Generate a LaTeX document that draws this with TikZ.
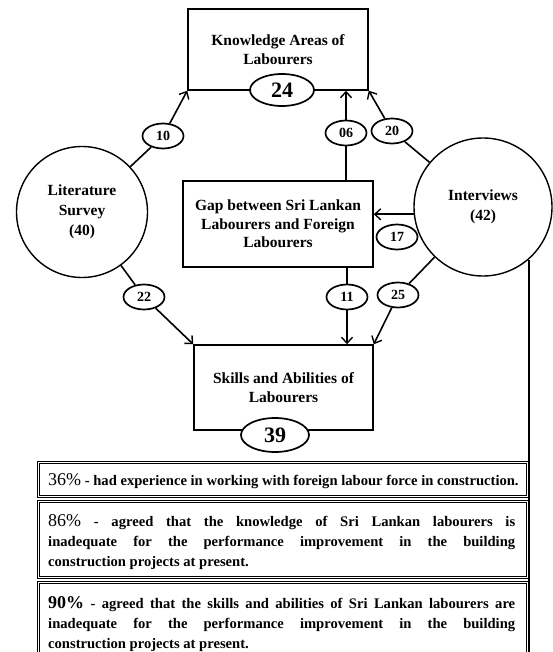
\documentclass[tikz,border=0pt]{standalone}
\usepackage{fontspec}
\setmainfont{Liberation Serif}
\usetikzlibrary{shapes.geometric,arrows.meta}
\begin{document}
\begin{tikzpicture}[x=1pt,y=-1pt,
  box/.style={draw,line width=1.5pt,rectangle,inner sep=0pt,font=\fontsize{15.5}{18.5}\selectfont\bfseries,align=center},
  circ/.style={draw,line width=1.4pt,circle,inner sep=0pt,font=\fontsize{15.5}{20}\selectfont\bfseries,align=center},
  num/.style={draw,line width=1.7pt,ellipse,inner sep=0pt,minimum width=41pt,minimum height=25pt,fill=white,font=\fontsize{14}{14}\selectfont\bfseries},
  bignum/.style={draw,line width=1.7pt,ellipse,inner sep=0pt,minimum width=64pt,minimum height=32pt,fill=white,font=\fontsize{22}{22}\selectfont\bfseries},
  link/.style={line width=1.6pt},
  arr/.style={link,-{Straight Barb[length=6pt,width=11pt,line width=1.4pt]}},
  notebox/.style={draw,double,line width=0.9pt,double distance=1.3pt,rectangle,inner sep=0pt},
  notetext/.style={anchor=north west,inner sep=0pt,text width=467pt,align=justify,font=\fontsize{14.6}{20}\selectfont\bfseries}
]
\useasboundingbox (0,0) rectangle (553,652);
\clip (0,0) rectangle (553,652);

% main nodes
\node[box,minimum width=180pt,minimum height=81pt] (know) at (278,49.5) {Knowledge Areas of\\Labourers};
\node[bignum] (e24) at (282,90) {24};
\node[circ,minimum size=131pt] (lit) at (82,212) {Literature\\Survey\\(40)};
\node[circ,minimum size=138pt] (intv) at (483,207) {Interviews\\(42)};
\node[box,minimum width=190pt,minimum height=86pt] (gap) at (278,224) {Gap between Sri Lankan\\Labourers and Foreign\\Labourers};
\node[box,minimum width=179pt,minimum height=85pt] (skills) at (283.5,387.5) {Skills and Abilities of\\Labourers};
\node[bignum,minimum width=68pt,minimum height=34pt] (e39) at (275,435) {39};

% number ellipses
\node[num] (e10) at (163,136) {10};
\node[num] (e22) at (144,297) {22};
\node[num] (e06) at (346,133) {06};
\node[num] (e20) at (392,131) {20};
\node[num] (e17) at (397,237) {17};
\node[num] (e11) at (347,297) {11};
\node[num] (e25) at (398,295) {25};

% connectors
\draw[link] (lit) -- (e10);
\draw[arr] (e10) -- (know.south west);
\draw[link] (lit) -- (e22);
\draw[arr] (e22) -- (skills.north west);
\draw[link] (gap.north -| e06) -- (e06);
\draw[arr] (e06) -- (know.south -| e06);
\draw[link] (intv) -- (e20);
\draw[arr] (e20) -- (know.south east);
\draw[arr] (intv.186) -- (gap.east |- intv.186);
\draw[link] (gap.south -| e11) -- (e11);
\draw[arr] (e11) -- (skills.north -| e11);
\draw[link] (intv) -- (e25);
\draw[arr] (e25) -- (skills.north east);
\coordinate (bot) at (528,660);
\draw[link] (intv.-49) -- (intv.-49 |- bot);

% notes
\node[notebox,anchor=north west,minimum width=489pt,minimum height=34pt] (n1) at (38,462) {};
\node[notebox,anchor=north west,minimum width=489pt,minimum height=76pt] (n2) at (38,501) {};
\node[notebox,anchor=north west,minimum width=489pt,minimum height=85pt] (n3) at (38,582) {};

\node[anchor=west,inner sep=0pt,font=\fontsize{14.6}{16}\selectfont\bfseries] (t1) at (48,481)
  {{\fontsize{18}{18}\selectfont\mdseries 36\%} - had experience in working with foreign labour force in construction.};
\node[notetext] (t2) at (48,514)
  {{\fontsize{18}{18}\selectfont\mdseries 86\%} - agreed that the knowledge of Sri Lankan labourers is\linebreak inadequate for the performance improvement in the building\linebreak construction projects at present.};
\node[notetext] (t3) at (48,596)
  {{\fontsize{18}{18}\selectfont 90\%} - agreed that the skills and abilities of Sri Lankan labourers are\linebreak inadequate for the performance improvement in the building\linebreak construction projects at present.};
\end{tikzpicture}
\end{document}
